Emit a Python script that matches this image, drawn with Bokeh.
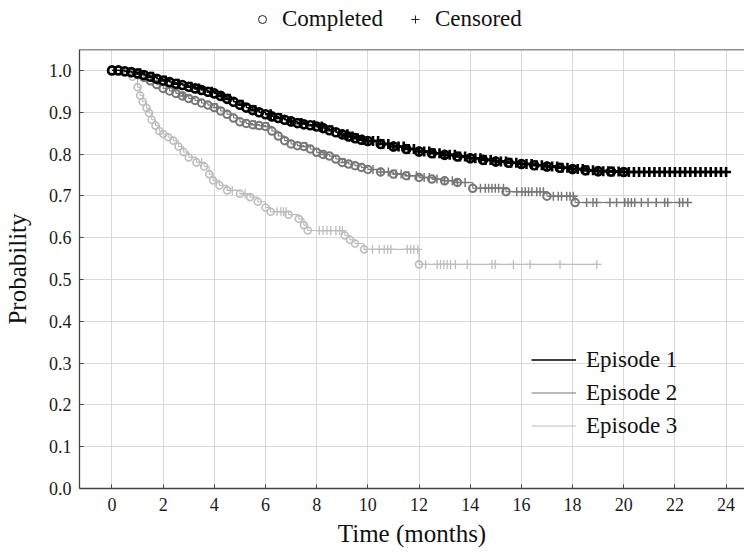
import numpy as np
from bokeh.plotting import figure
from bokeh.layouts import column
from bokeh.models import (Legend, LegendItem, Span, FixedTicker,
                          Range1d, CustomJSTickFormatter)
from bokeh.embed import file_html
from bokeh.resources import INLINE

# ---------------- data ----------------
x_ticks = [0, 2, 4, 6, 8, 10, 12, 14, 16, 18, 20, 22, 24]
y_ticks = [0.0, 0.1, 0.2, 0.3, 0.4, 0.5, 0.6, 0.7, 0.8, 0.9, 1.0]
episodes = ["Episode 1", "Episode 2", "Episode 3"]
marker_labels = ["Completed", "Censored"]

# Episode 1: step times and survival probability after each step
ep1_time = [0, 0.25, 0.5, 0.75, 1, 1.25, 1.5, 1.75, 2, 2.25, 2.5, 2.75, 3, 3.25, 3.5,
            3.75, 4, 4.25, 4.5, 4.75, 5, 5.25, 5.5, 5.75, 6, 6.25, 6.5, 6.75, 7, 7.25,
            7.5, 7.75, 8, 8.25, 8.5, 8.75, 9, 9.25, 9.5, 9.75, 10, 10.5, 11, 11.5, 12,
            12.5, 13, 13.5, 14, 14.5, 15, 15.5, 16, 16.5, 17, 17.5, 18, 18.5, 19, 19.5, 20]
ep1_surv = [1.000, 1.000, 0.998, 0.996, 0.993, 0.989, 0.985, 0.980, 0.976, 0.972, 0.968,
            0.965, 0.961, 0.957, 0.953, 0.949, 0.945, 0.939, 0.932, 0.925, 0.918, 0.911,
            0.905, 0.900, 0.895, 0.890, 0.886, 0.882, 0.878, 0.874, 0.871, 0.869, 0.866,
            0.862, 0.857, 0.852, 0.847, 0.842, 0.838, 0.834, 0.831, 0.824, 0.818, 0.812,
            0.806, 0.802, 0.798, 0.794, 0.790, 0.786, 0.782, 0.779, 0.776, 0.773, 0.770,
            0.767, 0.764, 0.761, 0.759, 0.758, 0.757]
ep1_censored = [1.1, 1.6, 2.1, 2.6, 3.1, 3.4, 3.9, 4.3, 4.6, 5.1, 5.6, 6.2, 6.6, 7.0, 7.4,
                7.9, 8.2, 8.6, 9.0, 9.2, 9.4, 9.6, 9.8, 10.0, 10.2, 10.4, 10.6, 10.8, 11.0,
                11.2, 11.4, 11.6, 11.8, 12.0, 12.2, 12.4, 12.6, 12.8, 13.0, 13.2, 13.4,
                13.6, 13.8, 14.0, 14.2, 14.4, 14.6, 14.8, 15.0, 15.2, 15.4, 15.6, 15.8,
                16.0, 16.2, 16.4, 16.6, 16.8, 17.0, 17.2, 17.4, 17.6, 17.8, 18.0, 18.2,
                18.4, 18.6, 18.8, 19.0, 19.2, 19.4, 19.6, 19.8, 20.0, 20.2, 20.4, 20.6,
                20.8, 21.0, 21.2, 21.4, 21.6, 21.8, 22.0, 22.2, 22.4, 22.6, 22.8, 23.0,
                23.2, 23.4, 23.6, 23.8, 24.0]

# Episode 2
ep2_time = [0, 0.25, 0.5, 0.75, 1.0, 1.25, 1.5, 1.75, 2.0, 2.25, 2.5, 2.75, 3.0, 3.25,
            3.5, 3.75, 4.0, 4.25, 4.5, 4.75, 5.0, 5.25, 5.5, 5.75, 6.0, 6.25, 6.5, 6.75,
            7.0, 7.25, 7.5, 7.75, 8.0, 8.25, 8.5, 8.75, 9.0, 9.25, 9.5, 9.75, 10.0, 10.5,
            11.0, 11.5, 12.0, 12.5, 13.0, 13.5, 14.1, 15.4, 17.0, 18.1]
ep2_surv = [1.000, 1.000, 0.997, 0.994, 0.990, 0.983, 0.975, 0.966, 0.957, 0.951, 0.945,
            0.939, 0.933, 0.928, 0.922, 0.917, 0.911, 0.903, 0.895, 0.886, 0.877, 0.873,
            0.870, 0.868, 0.866, 0.855, 0.843, 0.832, 0.824, 0.820, 0.818, 0.812, 0.804,
            0.799, 0.795, 0.788, 0.780, 0.776, 0.772, 0.768, 0.763, 0.757, 0.752, 0.748,
            0.744, 0.740, 0.736, 0.732, 0.718, 0.710, 0.699, 0.684]
ep2_censored = [2.8, 4.1, 5.6, 6.1, 7.6, 8.3, 9.1, 10.2, 10.5, 10.8, 11.1, 11.3, 11.6,
                11.9, 12.2, 12.4, 12.7, 13.0, 13.3, 13.5, 13.8, 14.40, 14.59, 14.72, 14.85,
                14.98, 15.11, 15.30, 15.82, 16.02, 16.15, 16.28, 16.41, 16.6, 16.73, 16.86,
                17.25, 17.44, 17.57, 17.77, 17.9, 18.03, 18.55, 18.8, 18.94, 19.46, 19.72,
                20.04, 20.17, 20.30, 20.43, 20.69, 20.95, 21.27, 21.6, 21.72, 22.18, 22.31,
                22.5]

# Episode 3
ep3_time = [0, 0.6, 0.8, 1.0, 1.1, 1.2, 1.35, 1.45, 1.55, 1.7, 1.85, 2.0, 2.2, 2.4, 2.6,
            2.8, 3.0, 3.3, 3.6, 3.8, 3.95, 4.2, 4.5, 5.0, 5.4, 5.7, 6.0, 6.2, 6.9, 7.3, 7.5,
            7.65, 9.1, 9.3, 9.5, 9.85, 12.0]
ep3_surv = [1.000, 0.995, 0.985, 0.960, 0.940, 0.925, 0.910, 0.898, 0.882, 0.868, 0.855,
            0.848, 0.840, 0.832, 0.818, 0.805, 0.792, 0.780, 0.770, 0.752, 0.737, 0.725,
            0.713, 0.705, 0.697, 0.686, 0.672, 0.662, 0.655, 0.645, 0.630, 0.617, 0.605,
            0.595, 0.586, 0.572, 0.536]
ep3_censored = [3.5, 4.7, 5.2, 6.45, 6.6, 6.7, 6.8, 8.1, 8.25, 8.4, 8.55, 8.75, 8.9, 9.0,
                10.18, 10.44, 10.64, 10.77, 10.9, 11.54, 11.67, 11.8, 11.95, 12.26, 12.71,
                12.84, 12.97, 13.1, 13.23, 13.42, 13.88, 14.85, 14.98, 15.69, 16.34, 17.51,
                18.95]

# ---------------- styling ----------------
FONT = "Liberation Serif"
colors = ["#000000", "#777777", "#bdbdbd"]
circle_size = [8, 7.5, 7]
circle_lw = [2.6, 2.0, 1.6]
cross_size = [10, 9, 9]
cross_lw = [2.6, 1.5, 1.3]
HEADER_H = 47

p = figure(width=744, height=552 - HEADER_H, output_backend="svg",
           toolbar_location=None,
           x_range=Range1d(-1.27, 24.72), y_range=Range1d(0, 1.05),
           min_border_left=78, min_border_right=0, min_border_top=2,
           min_border_bottom=64)
p.outline_line_color = None
p.background_fill_color = "white"
p.border_fill_color = "white"

p.xaxis.ticker = FixedTicker(ticks=x_ticks)
p.yaxis.ticker = FixedTicker(ticks=y_ticks)
p.yaxis.formatter = CustomJSTickFormatter(code="return tick.toFixed(1);")

for ax in (p.xaxis, p.yaxis):
    ax.axis_line_color = "#444444"
    ax.axis_line_width = 1.3
    ax.major_tick_line_color = "#444444"
    ax.major_tick_in = 4
    ax.major_tick_out = 0
    ax.minor_tick_line_color = None
    ax.major_label_text_font = FONT
    ax.major_label_text_font_size = "18px"
    ax.major_label_text_color = "#1a1a1a"
    ax.axis_label_text_font = FONT
    ax.axis_label_text_font_size = "25px"
    ax.axis_label_text_font_style = "normal"
    ax.axis_label_text_color = "#111111"

p.xaxis.axis_label = "Time (months)"
p.yaxis.axis_label = "Probability"
p.xaxis.major_label_standoff = 9
p.xaxis.axis_label_standoff = 6
p.yaxis.major_label_standoff = 8
p.yaxis.axis_label_standoff = 15

p.grid.grid_line_color = "#d9d9d9"
p.grid.grid_line_width = 1

p.add_layout(Span(location=p.y_range.end, dimension="width",
                  line_color="#222222", line_width=1.3))


def step_lookup(times, surv, t):
    idx = np.searchsorted(np.asarray(times), np.asarray(t), side="right") - 1
    return np.asarray(surv)[idx]


series = [
    (ep1_time, ep1_surv, ep1_censored),
    (ep2_time, ep2_surv, ep2_censored),
    (ep3_time, ep3_surv, ep3_censored),
]

step_renderers = [None, None, None]
for i in (2, 1, 0):
    t, s, c = series[i]
    end = max(max(t), max(c))
    xs = list(t) + [end]
    ys = list(s) + [s[-1]]
    col = colors[i]
    r = p.step(xs, ys, mode="after", line_color=col, line_width=1.4 if i == 0 else 1.1)
    step_renderers[i] = r
    p.scatter(t, s, marker="circle", size=circle_size[i], fill_color=None,
              line_color=col, line_width=circle_lw[i])
    p.scatter(c, step_lookup(t, s, c), marker="cross", size=cross_size[i],
              line_color=col, line_width=cross_lw[i])

ep_legend = Legend(items=[LegendItem(label=episodes[i], renderers=[step_renderers[i]])
                          for i in range(3)],
                   location=(452, 49), orientation="vertical",
                   label_text_font=FONT, label_text_font_size="23px",
                   label_text_color="#111111",
                   glyph_width=45, glyph_height=27, label_standoff=10, spacing=6,
                   border_line_color=None, background_fill_alpha=0,
                   padding=0, margin=0)
p.add_layout(ep_legend, "center")

# ---------------- header with the marker legend ----------------
header = figure(width=744, height=HEADER_H, output_backend="svg",
                toolbar_location=None, x_range=Range1d(0, 1), y_range=Range1d(0, 1),
                x_axis_type=None, y_axis_type=None,
                min_border_left=0, min_border_right=0, min_border_top=0,
                min_border_bottom=0)
header.outline_line_color = None
header.grid.visible = False
# renderers used only for their legend glyphs (their points lie outside the view)
r_comp = header.scatter([-1], [-1], marker="circle", size=6, fill_color=None,
                        line_color="#222222", line_width=1)
r_cens = header.scatter([-1], [-1], marker="cross", size=8,
                        line_color="#222222", line_width=1)
top_legend = Legend(items=[LegendItem(label=marker_labels[0], renderers=[r_comp]),
                           LegendItem(label=marker_labels[1], renderers=[r_cens])],
                    orientation="horizontal", location=(173, 15),
                    label_text_font=FONT, label_text_font_size="23px",
                    label_text_color="#111111",
                    glyph_width=20, glyph_height=20, label_standoff=10, spacing=22,
                    border_line_color=None, background_fill_alpha=0,
                    padding=0, margin=0)
header.add_layout(top_legend, "center")

layout = column(header, p, spacing=0)
open("out.html", "w").write(file_html(layout, INLINE))
